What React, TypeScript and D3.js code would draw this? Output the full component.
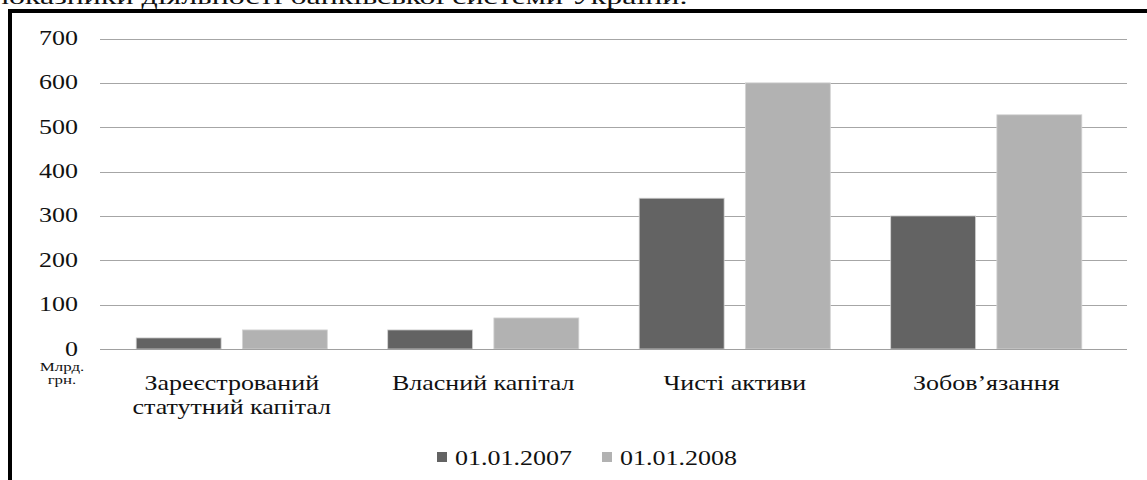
import React from "react";
import * as d3 from "d3";

const categories: string[][] = [
  ["Зареєстрований", "статутний капітал"],
  ["Власний капітал"],
  ["Чисті активи"],
  ["Зобов’язання"],
];
const series2007: number[] = [25, 43, 340, 300];
const series2008: number[] = [43, 70, 600, 528];
const seriesNames: string[] = ["01.01.2007", "01.01.2008"];
const yTicks: number[] = [0, 100, 200, 300, 400, 500, 600, 700];
const unitLabel: string[] = ["Млрд.", "грн."];
const topCaption = "показники діяльності банківської системи України.";

const W = 1147;
const H = 480;
const FONT = "'Liberation Serif', 'Times New Roman', serif";
const SX = 1.3;
const colors = ["#636363", "#b2b2b2"];

export default function App() {
  const y = d3.scaleLinear().domain([0, 700]).range([349, 38.5]);
  const x0 = d3
    .scaleBand<number>()
    .domain(categories.map((_, i) => i))
    .range([106, 1112])
    .paddingInner(0.24)
    .paddingOuter(0.12);
  const x1 = d3
    .scaleBand<number>()
    .domain([0, 1])
    .range([0, x0.bandwidth()])
    .paddingInner(0.2);
  const series = [series2007, series2008];

  const T = (
    x: number,
    yy: number,
    txt: string,
    size: number,
    anchor: "start" | "middle" | "end",
    key?: string,
    sx: number = SX
  ) => (
    <text
      key={key}
      transform={`translate(${x},${yy}) scale(${sx},1)`}
      textAnchor={anchor}
      fontFamily={FONT}
      fontSize={size}
      fill="#111"
    >
      {txt}
    </text>
  );

  return (
    <svg
      width={W}
      height={H}
      style={{ position: "absolute", left: 0, top: 0, background: "#fff" }}
    >
      {T(-8, 4, topCaption, 22, "start", "cap", 1.45)}
      {/* frame */}
      <line x1={10} y1={9} x2={10} y2={H} stroke="#000" strokeWidth={4} />
      <line x1={8} y1={11} x2={W} y2={11} stroke="#000" strokeWidth={4} />

      {/* grid */}
      {yTicks.map((t) => (
        <line
          key={"g" + t}
          x1={100}
          x2={1127}
          y1={Math.round(y(t)) + 0.5}
          y2={Math.round(y(t)) + 0.5}
          stroke="#a6a6a6"
          strokeWidth={1.2}
        />
      ))}
      {yTicks.map((t) =>
        T(78, y(t) + 6.5, String(t), 20, "end", "t" + t)
      )}
      {unitLabel.map((u, i) => T(62, 371 + i * 13, u, 13, "middle", "u" + i))}

      {/* bars */}
      {categories.map((_, ci) =>
        series.map((s, si) => (
          <rect
            key={`b${ci}-${si}`}
            x={(x0(ci) ?? 0) + (x1(si) ?? 0)}
            y={y(s[ci])}
            width={x1.bandwidth()}
            height={y(0) - y(s[ci])}
            fill={colors[si]}
            stroke="#d4d4d4"
            strokeWidth={0.8}
          />
        ))
      )}
      <line x1={100} x2={1127} y1={349.5} y2={349.5} stroke="#a0a0a0" strokeWidth={1.2} />

      {/* category labels */}
      {categories.map((lines, ci) =>
        lines.map((ln, li) =>
          T(
            (x0(ci) ?? 0) + x0.bandwidth() / 2,
            390 + li * 24,
            ln,
            20,
            "middle",
            `c${ci}-${li}`
          )
        )
      )}

      {/* legend */}
      {seriesNames.map((n, i) => (
        <g key={"l" + i}>
          <rect x={437 + i * 165} y={452} width={10} height={10} fill={colors[i]} />
          {T(455 + i * 165, 465, n, 20, "start")}
        </g>
      ))}
    </svg>
  );
}
